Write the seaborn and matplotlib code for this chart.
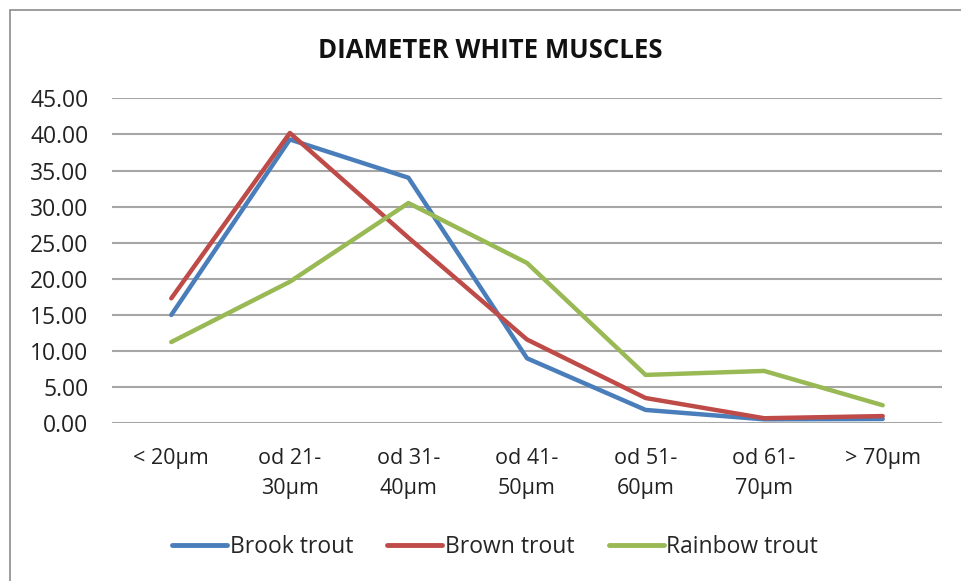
import matplotlib
matplotlib.use("Agg")
import matplotlib.pyplot as plt
import seaborn as sns
import pandas as pd
from matplotlib.patches import Rectangle

categories = ["< 20µm", "od 21-\n30µm", "od 31-\n40µm", "od 41-\n50µm", "od 51-\n60µm", "od 61-\n70µm", "> 70µm"]
brook = [15.0, 39.3, 34.0, 9.0, 1.85, 0.55, 0.6]
brown = [17.3, 40.2, 25.7, 11.6, 3.5, 0.7, 1.0]
rainbow = [11.25, 19.6, 30.5, 22.2, 6.7, 7.25, 2.5]
series_names = ["Brook trout", "Brown trout", "Rainbow trout"]
colors = ["#4A7EBB", "#BE4B48", "#98B954"]
yticks = [0, 5, 10, 15, 20, 25, 30, 35, 40, 45]

sns.set_style("white")
plt.rcParams['font.family'] = ['Open Sans', 'DejaVu Sans']

rows = []
for name, vals in zip(series_names, [brook, brown, rainbow]):
    for i, v in enumerate(vals):
        rows.append({"x": i, "value": v, "series": name})
df = pd.DataFrame(rows)

fig = plt.figure(figsize=(9.61, 5.81), dpi=100)
ax = fig.add_axes([112/961, 1-423.3/581, (942-112)/961, (423.3-98.3)/581])

sns.lineplot(data=df, x="x", y="value", hue="series", palette=colors,
             hue_order=series_names, linewidth=3.2, ax=ax, legend=True)

ax.set_xlim(-0.5, 6.5)
ax.set_ylim(0, 45)
ax.set_yticks(yticks)
ax.set_yticklabels([f"{t:.2f}" for t in yticks], fontsize=16.5, color="#222222")
ax.set_xticks(range(len(categories)))
ax.set_xticklabels(categories, fontsize=15.5, color="#222222", linespacing=1.55, va="top")
ax.tick_params(axis="x", length=0, pad=18)
ax.tick_params(axis="y", length=0, pad=17)
ax.set_xlabel("")
ax.set_ylabel("")
for s in ax.spines.values():
    s.set_visible(False)
ax.grid(axis="y", color="#A6A6A6", linewidth=1.5)
ax.set_axisbelow(True)

ax.set_title("DIAMETER WHITE MUSCLES", fontsize=18.5, fontweight="bold", color="#111111",
             x=(490-112)/(942-112), pad=29)

handles, labels = ax.get_legend_handles_labels()
leg = ax.legend(handles, labels, loc="center", bbox_to_anchor=(495/961, 1-547/581),
                bbox_transform=fig.transFigure, ncol=3, frameon=False, fontsize=16.5,
                handlelength=2.4, handletextpad=0.1, columnspacing=1.5)
for h in leg.get_lines():
    h.set_linewidth(3.5)

fig.patches.append(Rectangle((10/961, -0.05), 1.2, 1-10/581+0.05, transform=fig.transFigure,
                             fill=False, edgecolor="#8C8C8C", linewidth=1.2))

fig.savefig("out.png", dpi=100)
